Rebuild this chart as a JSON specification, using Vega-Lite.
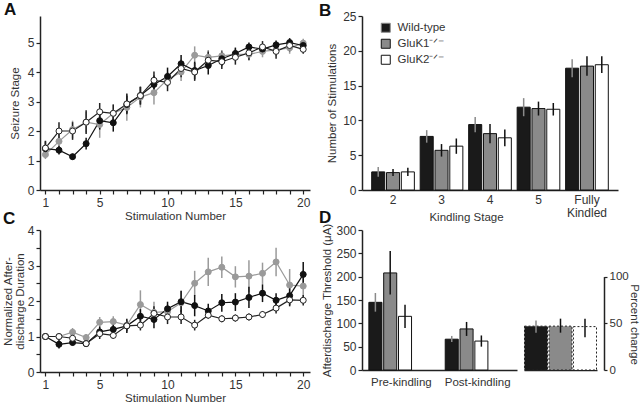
{
  "$schema": "https://vega.github.io/schema/vega-lite/v6.json",
  "background": "white",
  "padding": {"left": 2, "top": 1, "right": 0, "bottom": 0},
  "config": {
    "font": "Liberation Sans",
    "view": {"stroke": null},
    "axis": {"grid": false, "domainColor": "#222", "domainWidth": 1.5, "tickColor": "#222", "tickWidth": 1.2, "tickSize": 4, "labelFont": "Liberation Sans", "labelFontSize": 12, "labelColor": "#333", "labelOverlap": false, "titleFont": "Liberation Sans", "titleFontSize": 11.5, "titleFontWeight": "normal", "titleColor": "#333", "labelPadding": 3},
    "legend": {"labelFont": "Liberation Sans", "labelColor": "#333", "padding": 0},
    "title": {"font": "Liberation Sans", "fontSize": 17, "fontWeight": "bold", "color": "#111", "anchor": "start", "frame": "group", "baseline": "alphabetic"}
  },
  "datasets": {
    "seizure": [
      {"stim":1,"genotype":"GluK1⁻ᐟ⁻","mean":1.2,"sem":0.15},{"stim":1,"genotype":"Wild-type","mean":1.4,"sem":0.25},{"stim":1,"genotype":"GluK2⁻ᐟ⁻","mean":1.42,"sem":0.25},
      {"stim":2,"genotype":"GluK1⁻ᐟ⁻","mean":1.65,"sem":0.25},{"stim":2,"genotype":"Wild-type","mean":1.35,"sem":0.15},{"stim":2,"genotype":"GluK2⁻ᐟ⁻","mean":2.0,"sem":0.3},
      {"stim":3,"genotype":"GluK1⁻ᐟ⁻","mean":2.05,"sem":0.3},{"stim":3,"genotype":"Wild-type","mean":1.13,"sem":0.1},{"stim":3,"genotype":"GluK2⁻ᐟ⁻","mean":2.0,"sem":0.3},
      {"stim":4,"genotype":"GluK1⁻ᐟ⁻","mean":2.3,"sem":0.35},{"stim":4,"genotype":"Wild-type","mean":1.57,"sem":0.2},{"stim":4,"genotype":"GluK2⁻ᐟ⁻","mean":2.3,"sem":0.4},
      {"stim":5,"genotype":"GluK1⁻ᐟ⁻","mean":2.22,"sem":0.45},{"stim":5,"genotype":"Wild-type","mean":2.35,"sem":0.3},{"stim":5,"genotype":"GluK2⁻ᐟ⁻","mean":2.65,"sem":0.3},
      {"stim":6,"genotype":"GluK1⁻ᐟ⁻","mean":2.6,"sem":0.3},{"stim":6,"genotype":"Wild-type","mean":2.28,"sem":0.3},{"stim":6,"genotype":"GluK2⁻ᐟ⁻","mean":2.6,"sem":0.3},
      {"stim":7,"genotype":"GluK1⁻ᐟ⁻","mean":2.8,"sem":0.45},{"stim":7,"genotype":"Wild-type","mean":2.9,"sem":0.3},{"stim":7,"genotype":"GluK2⁻ᐟ⁻","mean":2.92,"sem":0.35},
      {"stim":8,"genotype":"GluK1⁻ᐟ⁻","mean":3.15,"sem":0.35},{"stim":8,"genotype":"Wild-type","mean":3.2,"sem":0.3},{"stim":8,"genotype":"GluK2⁻ᐟ⁻","mean":3.2,"sem":0.3},
      {"stim":9,"genotype":"GluK1⁻ᐟ⁻","mean":3.3,"sem":0.4},{"stim":9,"genotype":"Wild-type","mean":3.58,"sem":0.3},{"stim":9,"genotype":"GluK2⁻ᐟ⁻","mean":3.72,"sem":0.3},
      {"stim":10,"genotype":"GluK1⁻ᐟ⁻","mean":3.75,"sem":0.25},{"stim":10,"genotype":"Wild-type","mean":3.85,"sem":0.3},{"stim":10,"genotype":"GluK2⁻ᐟ⁻","mean":3.65,"sem":0.3},
      {"stim":11,"genotype":"GluK1⁻ᐟ⁻","mean":4.0,"sem":0.3},{"stim":11,"genotype":"Wild-type","mean":4.28,"sem":0.3},{"stim":11,"genotype":"GluK2⁻ᐟ⁻","mean":4.12,"sem":0.3},
      {"stim":12,"genotype":"GluK1⁻ᐟ⁻","mean":4.57,"sem":0.3},{"stim":12,"genotype":"Wild-type","mean":4.05,"sem":0.3},{"stim":12,"genotype":"GluK2⁻ᐟ⁻","mean":4.0,"sem":0.3},
      {"stim":13,"genotype":"GluK1⁻ᐟ⁻","mean":4.5,"sem":0.25},{"stim":13,"genotype":"Wild-type","mean":4.22,"sem":0.3},{"stim":13,"genotype":"GluK2⁻ᐟ⁻","mean":4.4,"sem":0.3},
      {"stim":14,"genotype":"GluK1⁻ᐟ⁻","mean":4.55,"sem":0.2},{"stim":14,"genotype":"Wild-type","mean":4.45,"sem":0.25},{"stim":14,"genotype":"GluK2⁻ᐟ⁻","mean":4.35,"sem":0.25},
      {"stim":15,"genotype":"GluK1⁻ᐟ⁻","mean":4.6,"sem":0.2},{"stim":15,"genotype":"Wild-type","mean":4.63,"sem":0.2},{"stim":15,"genotype":"GluK2⁻ᐟ⁻","mean":4.5,"sem":0.25},
      {"stim":16,"genotype":"GluK1⁻ᐟ⁻","mean":4.6,"sem":0.2},{"stim":16,"genotype":"Wild-type","mean":4.85,"sem":0.15},{"stim":16,"genotype":"GluK2⁻ᐟ⁻","mean":4.65,"sem":0.25},
      {"stim":17,"genotype":"GluK1⁻ᐟ⁻","mean":4.7,"sem":0.2},{"stim":17,"genotype":"Wild-type","mean":4.78,"sem":0.15},{"stim":17,"genotype":"GluK2⁻ᐟ⁻","mean":4.85,"sem":0.2},
      {"stim":18,"genotype":"GluK1⁻ᐟ⁻","mean":4.75,"sem":0.2},{"stim":18,"genotype":"Wild-type","mean":4.92,"sem":0.15},{"stim":18,"genotype":"GluK2⁻ᐟ⁻","mean":4.7,"sem":0.25},
      {"stim":19,"genotype":"GluK1⁻ᐟ⁻","mean":4.82,"sem":0.2},{"stim":19,"genotype":"Wild-type","mean":5.0,"sem":0.15},{"stim":19,"genotype":"GluK2⁻ᐟ⁻","mean":4.9,"sem":0.2},
      {"stim":20,"genotype":"GluK1⁻ᐟ⁻","mean":4.98,"sem":0.15},{"stim":20,"genotype":"Wild-type","mean":4.9,"sem":0.15},{"stim":20,"genotype":"GluK2⁻ᐟ⁻","mean":4.77,"sem":0.15}
    ],
    "add": [
      {"stim":1,"genotype":"GluK1⁻ᐟ⁻","mean":1.0,"sem":0},{"stim":1,"genotype":"Wild-type","mean":1.0,"sem":0},{"stim":1,"genotype":"GluK2⁻ᐟ⁻","mean":1.0,"sem":0},
      {"stim":2,"genotype":"GluK1⁻ᐟ⁻","mean":1.0,"sem":0.1},{"stim":2,"genotype":"Wild-type","mean":0.78,"sem":0.12},{"stim":2,"genotype":"GluK2⁻ᐟ⁻","mean":1.0,"sem":0.1},
      {"stim":3,"genotype":"GluK1⁻ᐟ⁻","mean":1.12,"sem":0.12},{"stim":3,"genotype":"Wild-type","mean":0.83,"sem":0.08},{"stim":3,"genotype":"GluK2⁻ᐟ⁻","mean":0.95,"sem":0.1},
      {"stim":4,"genotype":"GluK1⁻ᐟ⁻","mean":0.97,"sem":0.1},{"stim":4,"genotype":"Wild-type","mean":0.8,"sem":0.05},{"stim":4,"genotype":"GluK2⁻ᐟ⁻","mean":0.8,"sem":0.05},
      {"stim":5,"genotype":"GluK1⁻ᐟ⁻","mean":1.4,"sem":0.15},{"stim":5,"genotype":"Wild-type","mean":1.13,"sem":0.15},{"stim":5,"genotype":"GluK2⁻ᐟ⁻","mean":1.08,"sem":0.15},
      {"stim":6,"genotype":"GluK1⁻ᐟ⁻","mean":1.42,"sem":0.15},{"stim":6,"genotype":"Wild-type","mean":1.2,"sem":0.15},{"stim":6,"genotype":"GluK2⁻ᐟ⁻","mean":1.03,"sem":0.1},
      {"stim":7,"genotype":"GluK1⁻ᐟ⁻","mean":1.32,"sem":0.1},{"stim":7,"genotype":"Wild-type","mean":1.3,"sem":0.2},{"stim":7,"genotype":"GluK2⁻ᐟ⁻","mean":1.3,"sem":0.15},
      {"stim":8,"genotype":"GluK1⁻ᐟ⁻","mean":1.9,"sem":0.4},{"stim":8,"genotype":"Wild-type","mean":1.57,"sem":0.2},{"stim":8,"genotype":"GluK2⁻ᐟ⁻","mean":1.32,"sem":0.15},
      {"stim":9,"genotype":"GluK1⁻ᐟ⁻","mean":1.68,"sem":0.3},{"stim":9,"genotype":"Wild-type","mean":1.48,"sem":0.25},{"stim":9,"genotype":"GluK2⁻ᐟ⁻","mean":1.65,"sem":0.2},
      {"stim":10,"genotype":"GluK1⁻ᐟ⁻","mean":1.7,"sem":0.2},{"stim":10,"genotype":"Wild-type","mean":1.78,"sem":0.2},{"stim":10,"genotype":"GluK2⁻ᐟ⁻","mean":1.55,"sem":0.2},
      {"stim":11,"genotype":"GluK1⁻ᐟ⁻","mean":1.95,"sem":0.35},{"stim":11,"genotype":"Wild-type","mean":1.98,"sem":0.3},{"stim":11,"genotype":"GluK2⁻ᐟ⁻","mean":1.55,"sem":0.2},
      {"stim":12,"genotype":"GluK1⁻ᐟ⁻","mean":2.5,"sem":0.35},{"stim":12,"genotype":"Wild-type","mean":1.87,"sem":0.3},{"stim":12,"genotype":"GluK2⁻ᐟ⁻","mean":1.32,"sem":0.15},
      {"stim":13,"genotype":"GluK1⁻ᐟ⁻","mean":2.82,"sem":0.4},{"stim":13,"genotype":"Wild-type","mean":1.72,"sem":0.2},{"stim":13,"genotype":"GluK2⁻ᐟ⁻","mean":1.6,"sem":0.1},
      {"stim":14,"genotype":"GluK1⁻ᐟ⁻","mean":2.95,"sem":0.3},{"stim":14,"genotype":"Wild-type","mean":1.95,"sem":0.25},{"stim":14,"genotype":"GluK2⁻ᐟ⁻","mean":1.5,"sem":0.1},
      {"stim":15,"genotype":"GluK1⁻ᐟ⁻","mean":2.68,"sem":0.3},{"stim":15,"genotype":"Wild-type","mean":1.97,"sem":0.25},{"stim":15,"genotype":"GluK2⁻ᐟ⁻","mean":1.52,"sem":0.1},
      {"stim":16,"genotype":"GluK1⁻ᐟ⁻","mean":2.7,"sem":0.45},{"stim":16,"genotype":"Wild-type","mean":2.1,"sem":0.3},{"stim":16,"genotype":"GluK2⁻ᐟ⁻","mean":1.55,"sem":0.1},
      {"stim":17,"genotype":"GluK1⁻ᐟ⁻","mean":2.78,"sem":0.3},{"stim":17,"genotype":"Wild-type","mean":2.22,"sem":0.25},{"stim":17,"genotype":"GluK2⁻ᐟ⁻","mean":1.62,"sem":0.1},
      {"stim":18,"genotype":"GluK1⁻ᐟ⁻","mean":3.1,"sem":0.4},{"stim":18,"genotype":"Wild-type","mean":2.02,"sem":0.2},{"stim":18,"genotype":"GluK2⁻ᐟ⁻","mean":1.8,"sem":0.15},
      {"stim":19,"genotype":"GluK1⁻ᐟ⁻","mean":2.45,"sem":0.45},{"stim":19,"genotype":"Wild-type","mean":2.15,"sem":0.3},{"stim":19,"genotype":"GluK2⁻ᐟ⁻","mean":2.03,"sem":0.15},
      {"stim":20,"genotype":"GluK1⁻ᐟ⁻","mean":2.42,"sem":0.45},{"stim":20,"genotype":"Wild-type","mean":2.75,"sem":0.35},{"stim":20,"genotype":"GluK2⁻ᐟ⁻","mean":2.02,"sem":0.15}
    ],
    "stages": [
      {"stage":"2","genotype":"Wild-type","mean":2.6,"lo":1.9,"hi":3.3},{"stage":"2","genotype":"GluK1⁻ᐟ⁻","mean":2.5,"lo":2.0,"hi":3.0},{"stage":"2","genotype":"GluK2⁻ᐟ⁻","mean":2.6,"lo":2.0,"hi":3.2},
      {"stage":"3","genotype":"Wild-type","mean":7.7,"lo":6.8,"hi":8.6},{"stage":"3","genotype":"GluK1⁻ᐟ⁻","mean":5.7,"lo":4.8,"hi":6.6},{"stage":"3","genotype":"GluK2⁻ᐟ⁻","mean":6.3,"lo":5.2,"hi":7.4},
      {"stage":"4","genotype":"Wild-type","mean":9.4,"lo":8.3,"hi":10.5},{"stage":"4","genotype":"GluK1⁻ᐟ⁻","mean":8.1,"lo":6.7,"hi":9.5},{"stage":"4","genotype":"GluK2⁻ᐟ⁻","mean":7.5,"lo":6.3,"hi":8.7},
      {"stage":"5","genotype":"Wild-type","mean":11.9,"lo":10.6,"hi":13.2},{"stage":"5","genotype":"GluK1⁻ᐟ⁻","mean":11.7,"lo":10.7,"hi":12.7},{"stage":"5","genotype":"GluK2⁻ᐟ⁻","mean":11.6,"lo":10.7,"hi":12.5},
      {"stage":"Fully Kindled","genotype":"Wild-type","mean":17.5,"lo":16.2,"hi":18.8},{"stage":"Fully Kindled","genotype":"GluK1⁻ᐟ⁻","mean":17.8,"lo":16.4,"hi":19.2},{"stage":"Fully Kindled","genotype":"GluK2⁻ᐟ⁻","mean":18.0,"lo":16.8,"hi":19.2}
    ],
    "threshold": [
      {"phase":"Pre-kindling","genotype":"Wild-type","mean":145,"lo":125,"hi":165},{"phase":"Pre-kindling","genotype":"GluK1⁻ᐟ⁻","mean":208,"lo":162,"hi":255},{"phase":"Pre-kindling","genotype":"GluK2⁻ᐟ⁻","mean":115,"lo":90,"hi":140},
      {"phase":"Post-kindling","genotype":"Wild-type","mean":66,"lo":60,"hi":73},{"phase":"Post-kindling","genotype":"GluK1⁻ᐟ⁻","mean":88,"lo":73,"hi":103},{"phase":"Post-kindling","genotype":"GluK2⁻ᐟ⁻","mean":62,"lo":50,"hi":74}
    ],
    "pct": [
      {"genotype":"Wild-type","mean":47,"lo":40,"hi":53},{"genotype":"GluK1⁻ᐟ⁻","mean":47,"lo":40,"hi":55},{"genotype":"GluK2⁻ᐟ⁻","mean":46.5,"lo":35,"hi":55}
    ]
  },
  "columns": 2,
  "bounds": "flush",
  "spacing": {"row": 40, "column": 52},
  "resolve": {"scale": {"fill": "independent", "stroke": "independent", "color": "independent"}, "legend": {"fill": "independent", "stroke": "independent", "color": "independent"}},
  "concat": [
    {
      "width": 270, "height": 174,
      "title": {"text": "A", "dx": -36, "offset": -3},
      "data": {"name": "seizure"},
      "encoding": {
        "x": {"field": "stim", "type": "quantitative", "scale": {"domain": [0.6, 20.5], "nice": false, "zero": false},
              "axis": {"title": "Stimulation Number", "values": [1,2,3,4,5,6,7,8,9,10,11,12,13,14,15,16,17,18,19,20], "labelExpr": "indexof([1,5,10,15,20], datum.value) >= 0 ? datum.label : ''", "labelFlush": false, "titlePadding": 2}},
        "y": {"field": "mean", "type": "quantitative", "scale": {"domain": [0, 5.9], "nice": false},
              "axis": {"title": "Seizure Stage", "values": [0,1,2,3,4,5], "labelPadding": 2, "titlePadding": 7}}
      },
      "layer": [
        {"mark": {"type": "errorbar", "thickness": 1.5},
         "encoding": {"yError": {"field": "sem"},
                      "color": {"field": "genotype", "type": "nominal", "scale": {"domain": ["Wild-type","GluK1⁻ᐟ⁻","GluK2⁻ᐟ⁻"], "range": ["#111","#9a9a9a","#222"]}, "legend": null}}},
        {"mark": {"type": "line", "strokeWidth": 1.2},
         "encoding": {"stroke": {"field": "genotype", "type": "nominal", "scale": {"domain": ["Wild-type","GluK1⁻ᐟ⁻","GluK2⁻ᐟ⁻"], "range": ["#111","#9a9a9a","#222"]},
                      "legend": {"title": null, "orient": "none", "legendX": 11, "legendY": 1, "symbolType": "M-1,0L-0.55,0M0.55,0L1,0M0.55,0A0.55,0.55 0 1 1 -0.55,0A0.55,0.55 0 1 1 0.55,0Z", "symbolSize": 121, "symbolStrokeWidth": 1.2, "symbolOpacity": 1, "labelFontSize": 11, "rowPadding": 3}}}},
        {"mark": {"type": "point", "filled": true, "size": 36, "strokeWidth": 1, "opacity": 1},
         "encoding": {
           "fill": {"field": "genotype", "type": "nominal", "scale": {"domain": ["Wild-type","GluK1⁻ᐟ⁻","GluK2⁻ᐟ⁻"], "range": ["#111","#9a9a9a","#ffffff"]},
                    "legend": {"title": null, "orient": "none", "legendX": 11, "legendY": 1, "symbolType": "M-1,0L-0.55,0M0.55,0L1,0M0.55,0A0.55,0.55 0 1 1 -0.55,0A0.55,0.55 0 1 1 0.55,0Z", "symbolSize": 121, "symbolStrokeWidth": 1.2, "symbolOpacity": 1, "labelFontSize": 11, "rowPadding": 3}},
           "stroke": {"field": "genotype", "type": "nominal", "scale": {"domain": ["Wild-type","GluK1⁻ᐟ⁻","GluK2⁻ᐟ⁻"], "range": ["#111","#9a9a9a","#222"]},
                    "legend": {"title": null, "orient": "none", "legendX": 11, "legendY": 1, "symbolType": "M-1,0L-0.55,0M0.55,0L1,0M0.55,0A0.55,0.55 0 1 1 -0.55,0A0.55,0.55 0 1 1 0.55,0Z", "symbolSize": 121, "symbolStrokeWidth": 1.2, "symbolOpacity": 1, "labelFontSize": 11, "rowPadding": 3}}
         }}
      ]
    },
    {
      "width": 256, "height": 174,
      "title": {"text": "B", "dx": -43, "offset": -10},
      "data": {"name": "stages"},
      "encoding": {
        "x": {"field": "stage", "type": "nominal", "sort": null, "scale": {"paddingInner": 0.12, "paddingOuter": 0.2},
              "axis": {"title": "Kindling Stage", "labelAngle": 0, "ticks": false, "labelPadding": 4, "labelExpr": "split(datum.value, ' ')", "labelLineHeight": 13, "titleX": 104, "titleY": 21, "titleBaseline": "top", "titleAnchor": "middle"}},
        "xOffset": {"field": "genotype", "type": "nominal", "scale": {"domain": ["Wild-type","GluK1⁻ᐟ⁻","GluK2⁻ᐟ⁻"], "paddingInner": 0.12}}
      },
      "layer": [
        {"mark": {"type": "bar", "stroke": "#111", "strokeWidth": 1},
         "encoding": {"y": {"field": "mean", "type": "quantitative", "scale": {"domain": [0, 25], "nice": false}, "axis": {"title": "Number of Stimulations", "values": [0,5,10,15,20,25], "labelPadding": 2, "titlePadding": 5}},
                      "fill": {"field": "genotype", "type": "nominal", "scale": {"domain": ["Wild-type","GluK1⁻ᐟ⁻","GluK2⁻ᐟ⁻"], "range": ["#1a1a1a","#8a8a8a","#ffffff"]},
                               "legend": {"title": null, "orient": "none", "legendX": 18, "legendY": 6, "symbolType": "square", "symbolSize": 81, "symbolStrokeColor": "#111", "symbolStrokeWidth": 1, "symbolOpacity": 1, "labelFontSize": 11.5, "rowPadding": 2, "labelOffset": 6}}}},
        {"mark": {"type": "rule", "strokeWidth": 1.5},
         "encoding": {"y": {"field": "lo", "type": "quantitative", "axis": {"title": "Number of Stimulations", "values": [0,5,10,15,20,25], "labelPadding": 2, "titlePadding": 5}}, "y2": {"field": "hi"},
                      "color": {"field": "genotype", "type": "nominal", "scale": {"domain": ["Wild-type","GluK1⁻ᐟ⁻","GluK2⁻ᐟ⁻"], "range": ["#8a8a8a","#111","#111"]}, "legend": null}}}
      ]
    },
    {
      "width": 270, "height": 142,
      "title": {"text": "C", "dx": -37, "offset": -4},
      "data": {"name": "add"},
      "encoding": {
        "x": {"field": "stim", "type": "quantitative", "scale": {"domain": [0.6, 20.5], "nice": false, "zero": false},
              "axis": {"title": "Stimulation Number", "values": [1,2,3,4,5,6,7,8,9,10,11,12,13,14,15,16,17,18,19,20], "labelExpr": "indexof([1,5,10,15,20], datum.value) >= 0 ? datum.label : ''", "labelFlush": false, "titlePadding": 2}},
        "y": {"field": "mean", "type": "quantitative", "scale": {"domain": [0, 4], "nice": false},
              "axis": {"title": ["Normalized After-", "discharge Duration"], "values": [0,0.5,1,1.5,2,2.5,3,3.5,4], "labelExpr": "datum.value % 1 == 0 ? format(datum.value, 'd') : ''", "labelPadding": 2, "titlePadding": 2, "titleLineHeight": 12}}
      },
      "layer": [
        {"mark": {"type": "errorbar", "thickness": 1.5},
         "encoding": {"yError": {"field": "sem"},
                      "color": {"field": "genotype", "type": "nominal", "scale": {"domain": ["Wild-type","GluK1⁻ᐟ⁻","GluK2⁻ᐟ⁻"], "range": ["#111","#9a9a9a","#222"]}, "legend": null}}},
        {"mark": {"type": "line", "strokeWidth": 1.2},
         "encoding": {"stroke": {"field": "genotype", "type": "nominal", "scale": {"domain": ["Wild-type","GluK1⁻ᐟ⁻","GluK2⁻ᐟ⁻"], "range": ["#111","#9a9a9a","#222"]}, "legend": null}}},
        {"mark": {"type": "point", "filled": true, "size": 36, "strokeWidth": 1, "opacity": 1},
         "encoding": {
           "fill": {"field": "genotype", "type": "nominal", "scale": {"domain": ["Wild-type","GluK1⁻ᐟ⁻","GluK2⁻ᐟ⁻"], "range": ["#111","#9a9a9a","#ffffff"]}, "legend": null},
           "stroke": {"field": "genotype", "type": "nominal", "scale": {"domain": ["Wild-type","GluK1⁻ᐟ⁻","GluK2⁻ᐟ⁻"], "range": ["#111","#9a9a9a","#222"]}, "legend": null}
         }}
      ]
    },
    {
      "title": {"text": "D", "dx": -43, "offset": -4},
      "spacing": 7,
      "bounds": "flush",
      "hconcat": [
        {
          "width": 155, "height": 140,
          "data": {"name": "threshold"},
          "encoding": {
            "x": {"field": "phase", "type": "nominal", "sort": null, "scale": {"paddingInner": 0.15, "paddingOuter": 0.09},
                  "axis": {"title": null, "labelAngle": 0, "ticks": false, "labelPadding": 6, "labelFontSize": 11.5}},
            "xOffset": {"field": "genotype", "type": "nominal", "scale": {"domain": ["Wild-type","GluK1⁻ᐟ⁻","GluK2⁻ᐟ⁻"], "paddingInner": 0.05}}
          },
          "layer": [
            {"mark": {"type": "bar", "stroke": "#111", "strokeWidth": 1},
             "encoding": {"y": {"field": "mean", "type": "quantitative", "scale": {"domain": [0, 300], "nice": false}, "axis": {"title": "Afterdischarge Threshold (μA)", "values": [0,50,100,150,200,250,300], "labelPadding": 2, "titlePadding": 3}},
                          "fill": {"field": "genotype", "type": "nominal", "scale": {"domain": ["Wild-type","GluK1⁻ᐟ⁻","GluK2⁻ᐟ⁻"], "range": ["#1a1a1a","#8a8a8a","#ffffff"]}, "legend": null}}},
            {"mark": {"type": "rule", "strokeWidth": 1.5},
             "encoding": {"y": {"field": "lo", "type": "quantitative", "axis": {"title": "Afterdischarge Threshold (μA)", "values": [0,50,100,150,200,250,300], "labelPadding": 2, "titlePadding": 3}}, "y2": {"field": "hi"},
                          "color": {"field": "genotype", "type": "nominal", "scale": {"domain": ["Wild-type","GluK1⁻ᐟ⁻","GluK2⁻ᐟ⁻"], "range": ["#8a8a8a","#111","#111"]}, "legend": null}}}
          ]
        },
        {
          "width": 73, "height": 140,
          "data": {"name": "pct"},
          "encoding": {
            "x": {"field": "genotype", "type": "nominal", "sort": null, "scale": {"domain": ["Wild-type","GluK1⁻ᐟ⁻","GluK2⁻ᐟ⁻"], "paddingInner": 0.06, "paddingOuter": 0.02},
                  "axis": {"title": null, "labels": false, "ticks": false}}
          },
          "layer": [
            {"mark": {"type": "bar", "stroke": "#222", "strokeWidth": 1, "strokeDash": [2, 2]},
             "encoding": {"y": {"field": "mean", "type": "quantitative", "scale": {"domain": [0, 150], "nice": false},
                                "axis": {"orient": "right", "title": "Percent change", "values": [0,50,100], "offset": 7, "domainDash": [93.4, 100], "tickSize": 3, "labelPadding": 2, "labelFontSize": 11.5, "titlePadding": 0, "titleY": 94, "titleAlign": "center"}},
                          "fill": {"field": "genotype", "type": "nominal", "scale": {"domain": ["Wild-type","GluK1⁻ᐟ⁻","GluK2⁻ᐟ⁻"], "range": ["#1a1a1a","#8a8a8a","#ffffff"]}, "legend": null}}},
            {"mark": {"type": "rule", "strokeWidth": 1.5},
             "encoding": {"y": {"field": "lo", "type": "quantitative", "axis": {"orient": "right", "title": "Percent change", "values": [0,50,100], "offset": 7, "domainDash": [93.4, 100], "tickSize": 3, "labelPadding": 2, "labelFontSize": 11.5, "titlePadding": 0, "titleY": 94, "titleAlign": "center"}}, "y2": {"field": "hi"},
                          "color": {"field": "genotype", "type": "nominal", "scale": {"domain": ["Wild-type","GluK1⁻ᐟ⁻","GluK2⁻ᐟ⁻"], "range": ["#8a8a8a","#111","#111"]}, "legend": null}}}
          ]
        }
      ]
    }
  ]
}
